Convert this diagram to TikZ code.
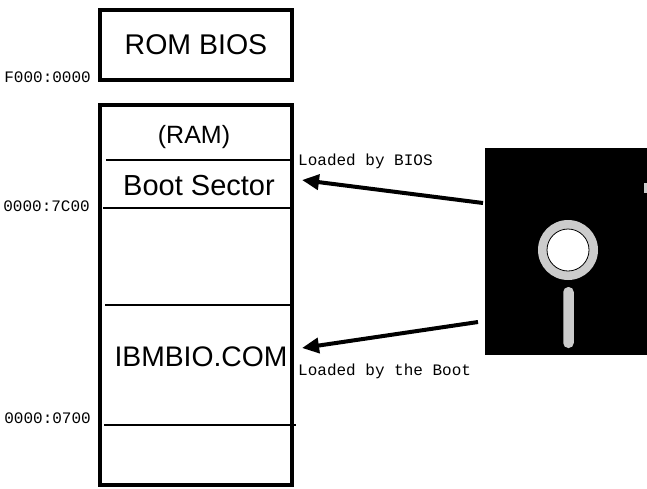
\documentclass[tikz,border=0pt]{standalone}
\usepackage{fontspec}
\setmainfont{Liberation Sans}
\setmonofont{Liberation Mono}
\usetikzlibrary{shapes,arrows.meta,positioning}

\begin{document}
\begin{tikzpicture}[x=1pt, y=-1pt]
            \tikzstyle{membox} = [rectangle, draw=black, line width=4pt, inner sep=0pt]
            \tikzstyle{divider} = [line width=2pt, draw=black]
            \tikzstyle{addr} = [anchor=base east, inner sep=0pt, font=\fontsize{16}{17}\ttfamily]
            \tikzstyle{note} = [anchor=base west, inner sep=0pt, font=\fontsize{16}{17}\ttfamily]
            \tikzstyle{region} = [anchor=base, inner sep=0pt]
            \tikzstyle{load} = [-{Triangle[length=17pt, width=15pt]}, line width=4pt, draw=black]
            \tikzstyle{hub} = [fill=gray!40]
            \useasboundingbox (0, 0) rectangle (647, 488);
            % memory map
            \node[membox, minimum width=192pt, minimum height=69.5pt, font=\fontsize{28.5}{30}\selectfont] (rom) at (196, 44.75) {ROM BIOS};
            \node[membox, minimum width=191.5pt, minimum height=380.5pt] (ram) at (195.75, 294.75) {};
            \draw[divider] (106, 160) -- (290, 160);
            \draw[divider] (103, 208) -- (290, 208);
            \draw[divider] (105, 305) -- (290, 305);
            \draw[divider] (104, 424.5) -- (296, 424.5);
            \node[region, font=\fontsize{25}{26}\selectfont] (ram-label) at (194, 143) {(RAM)};
            \node[region, font=\fontsize{29}{30}\selectfont] (boot) at (199, 195) {Boot Sector};
            \node[region, font=\fontsize{28.3}{29}\selectfont] (ibmbio) at (201, 366) {IBMBIO.COM};
            \node[addr] (rom-addr) at (91, 82) {F000:0000};
            \node[addr] (boot-addr) at (90, 211) {0000:7C00};
            \node[addr] (bio-addr) at (91, 423) {0000:0700};
            % diskette
            \node[rectangle, fill=black, minimum width=162pt, minimum height=207pt, inner sep=0pt] (disk) at (566, 251.5) {};
            \fill[gray!40] (644, 183) rectangle (647, 193);
            \node[circle, hub, minimum size=60pt, inner sep=0pt] (hub) at (568, 250) {};
            \node[circle, fill=white, draw=black, line width=0.8pt, minimum size=42pt, inner sep=0pt] (hole) at (hub) {};
            \node[rectangle, hub, rounded corners=5pt, minimum width=10.5pt, minimum height=61pt, inner sep=0pt] (slot) at (568.5, 317.5) {};
            % loading
            \coordinate (boot-in) at (302, 180);
            \coordinate (bio-in) at (302, 348);
            \coordinate (disk-a) at (483, 203);
            \coordinate (disk-b) at (478, 322);
            \draw[load] (disk-a) -- (boot-in);
            \draw[load] (disk-b) -- (bio-in);
            \node[note] (bios-note) at (298, 165) {Loaded by BIOS};
            \node[note] (boot-note) at (298, 375) {Loaded by the Boot};
        \end{tikzpicture}
\end{document}
